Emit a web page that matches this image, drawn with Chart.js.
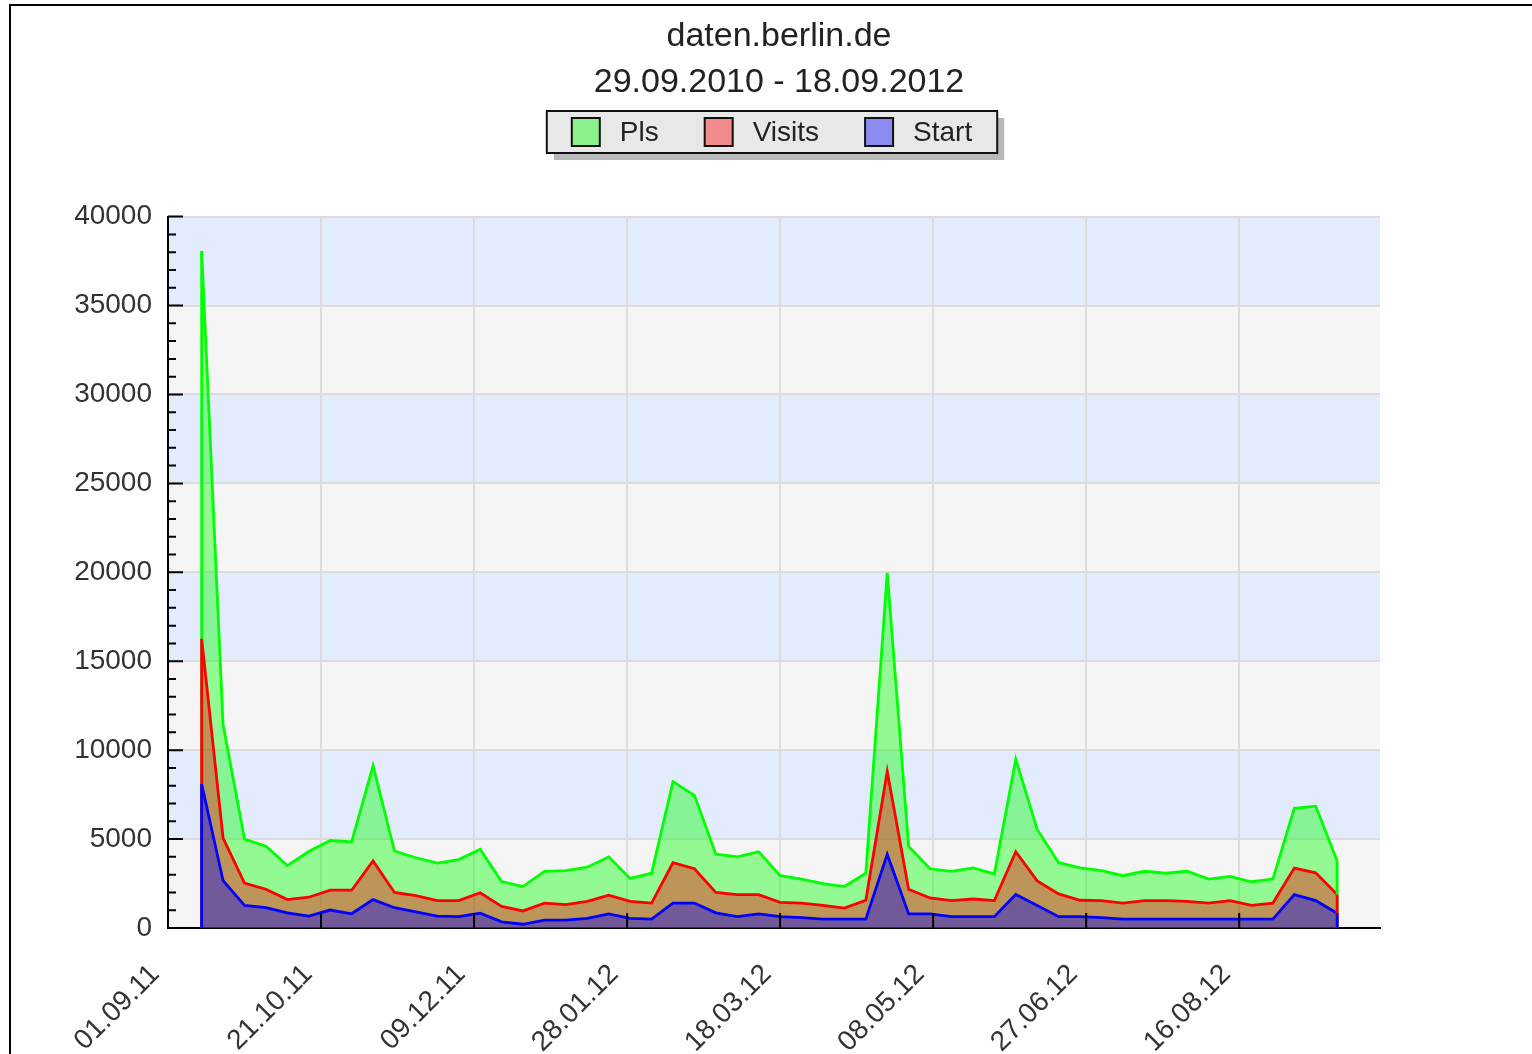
<!DOCTYPE html>
<html>
<head>
<meta charset="utf-8">
<script src="https://cdn.jsdelivr.net/npm/chart.js@4.4.1/dist/chart.umd.min.js"></script>
<style>
  html, body { margin: 0; padding: 0; background: #fff; }
</style>
</head>
<body>
<canvas id="myChart" width="1532" height="1054"></canvas>
<script>
// weekly values
const weeks = ['12.09.11', '19.09.11', '26.09.11', '03.10.11', '10.10.11', '17.10.11', '24.10.11', '31.10.11',
  '07.11.11', '14.11.11', '21.11.11', '28.11.11', '05.12.11', '12.12.11', '19.12.11', '26.12.11',
  '02.01.12', '09.01.12', '16.01.12', '23.01.12', '30.01.12', '06.02.12', '13.02.12', '20.02.12', '27.02.12',
  '05.03.12', '12.03.12', '19.03.12', '26.03.12', '02.04.12', '09.04.12', '16.04.12', '23.04.12', '30.04.12',
  '07.05.12', '14.05.12', '21.05.12', '28.05.12', '04.06.12', '11.06.12', '18.06.12', '25.06.12',
  '02.07.12', '09.07.12', '16.07.12', '23.07.12', '30.07.12', '06.08.12', '13.08.12', '20.08.12', '27.08.12',
  '03.09.12', '10.09.12', '17.09.12'];
const pls = [38060, 11430, 5000, 4600, 3510, 4300, 4920, 4840, 9120, 4330, 3950, 3650, 3850, 4420, 2615, 2330,
  3190, 3230, 3420, 4000, 2790, 3080, 8230, 7460, 4150, 4000, 4290, 2940, 2750, 2500, 2330, 3080, 19970, 4580,
  3330, 3190, 3380, 3040, 9480, 5540, 3670, 3380, 3230, 2940, 3190, 3080, 3190, 2750, 2900, 2600, 2750, 6730, 6850, 3770];
const visits = [16270, 5050, 2525, 2180, 1595, 1730, 2125, 2125, 3775, 2000, 1820, 1540, 1540, 1980, 1210, 960,
  1400, 1310, 1500, 1850, 1500, 1400, 3670, 3330, 2000, 1880, 1880, 1440, 1400, 1270, 1115, 1560, 8810, 2170,
  1690, 1540, 1630, 1540, 4290, 2650, 1920, 1560, 1540, 1400, 1540, 1540, 1500, 1400, 1540, 1270, 1400, 3370, 3100, 1880];
const starts = [8100, 2660, 1275, 1140, 850, 665, 1010, 800, 1595, 1140, 900, 670, 635, 830, 345, 210,
  440, 440, 540, 790, 540, 500, 1400, 1400, 850, 635, 790, 635, 580, 500, 500, 500, 4150, 790,
  790, 635, 635, 635, 1880, 1270, 635, 635, 580, 500, 500, 500, 500, 500, 500, 500, 500, 1880, 1540, 830];
const seriesNames = ['Pls', 'Visits', 'Start'];
// x ticks every 50 days from the axis start, labelled as in the original
const tickLabels = ['01.09.11', '21.10.11', '09.12.11', '28.01.12', '18.03.12', '08.05.12', '27.06.12', '16.08.12'];
const axisStart = '01.09.11';
const axisEnd = '01.10.12';
const title = 'daten.berlin.de';
const subtitle = '29.09.2010 - 18.09.2012';

const FONT = '"Liberation Sans", Arial, sans-serif';
const lineColors = ['#00ff00', '#ff0000', '#0000ff'];
const fillColors = ['rgba(0,255,0,0.4)', 'rgba(255,0,0,0.4)', 'rgba(0,0,255,0.4)'];

const base = Date.UTC(2011, 8, 1);
function toDay(s) {
  const [d, m, y] = s.split('.').map(Number);
  return Math.round((Date.UTC(2000 + y, m - 1, d) - base) / 86400000);
}

const series = [pls, visits, starts];
const datasets = series.map((vals, i) => ({
  label: seriesNames[i],
  data: vals.map((v, k) => ({x: toDay(weeks[k]), y: v})),
  borderColor: lineColors[i],
  backgroundColor: fillColors[i],
  borderWidth: 2.8,
  fill: 'origin',
  pointRadius: 0,
  tension: 0,
  order: 3 - i
}));

// background frame + banded plot area
const backdrop = {
  id: 'backdrop',
  beforeDraw(chart) {
    const {ctx, chartArea: a} = chart;
    const ys = chart.scales.y;
    ctx.save();
    ctx.fillStyle = '#fff';
    ctx.fillRect(0, 0, chart.width, chart.height);
    for (let v = 0; v < 40000; v += 5000) {
      const top = ys.getPixelForValue(v + 5000), bot = ys.getPixelForValue(v);
      ctx.fillStyle = (v / 5000) % 2 ? '#e2ecfc' : '#f5f5f5';
      ctx.fillRect(a.left, top, a.right - a.left, bot - top);
    }
    ctx.strokeStyle = '#000';
    ctx.lineWidth = 2;
    ctx.beginPath();
    ctx.moveTo(10, chart.height);
    ctx.lineTo(10, 5);
    ctx.lineTo(chart.width, 5);
    ctx.stroke();
    ctx.restore();
  }
};

// closing edges of the areas + inward tick marks
const edges = {
  id: 'edges',
  afterDatasetsDraw(chart) {
    const {ctx, chartArea: a} = chart;
    const ys = chart.scales.y, xs = chart.scales.x;
    const y0 = ys.getPixelForValue(0);
    ctx.save();
    chart.data.datasets.forEach((ds, i) => {
      const pts = chart.getDatasetMeta(i).data;
      ctx.strokeStyle = ds.borderColor;
      ctx.lineWidth = ds.borderWidth;
      [pts[0], pts[pts.length - 1]].forEach(p => {
        ctx.beginPath();
        ctx.moveTo(p.x, p.y);
        ctx.lineTo(p.x, y0);
        ctx.stroke();
      });
    });
    ctx.strokeStyle = '#000';
    ctx.lineWidth = 2;
    ctx.beginPath();
    xs.ticks.forEach(t => {
      const px = xs.getPixelForValue(t.value);
      ctx.moveTo(px, a.bottom);
      ctx.lineTo(px, a.bottom - 15);
    });
    for (let v = 0; v <= 40000; v += 1000) {
      const py = ys.getPixelForValue(v);
      ctx.moveTo(a.left, py);
      ctx.lineTo(a.left + (v % 5000 === 0 ? 15 : 8), py);
    }
    ctx.stroke();
    ctx.restore();
  }
};

// boxed legend with drop shadow
const boxLegend = {
  id: 'boxLegend',
  afterDraw(chart) {
    const ctx = chart.ctx;
    const dss = chart.data.datasets;
    const sw = 28, gapText = 20, gapItem = 46, padX = 25;
    ctx.save();
    ctx.font = '28px ' + FONT;
    const widths = dss.map(ds => ctx.measureText(ds.label).width);
    const inner = widths.reduce((s, w) => s + sw + gapText + w, 0) + gapItem * (dss.length - 1);
    const w = inner + 2 * padX, h = 42;
    const x0 = 772 - w / 2, y0 = 111;
    ctx.fillStyle = '#b9b9b9';
    ctx.fillRect(x0 + 7, y0 + 7, w, h);
    ctx.fillStyle = '#e8e8e8';
    ctx.fillRect(x0, y0, w, h);
    ctx.strokeStyle = '#111';
    ctx.lineWidth = 2;
    ctx.strokeRect(x0, y0, w, h);
    let x = x0 + padX;
    ctx.textBaseline = 'middle';
    dss.forEach((ds, i) => {
      ctx.fillStyle = ds.backgroundColor;
      ctx.fillRect(x, y0 + 7, sw, sw);
      ctx.strokeStyle = '#111';
      ctx.strokeRect(x, y0 + 7, sw, sw);
      ctx.fillStyle = '#222';
      ctx.fillText(ds.label, x + sw + gapText, y0 + h / 2 + 1);
      x += sw + gapText + widths[i] + gapItem;
    });
    ctx.restore();
  }
};

const config = {
  type: 'line',
  data: {datasets: datasets},
  options: {
    responsive: false,
    animation: false,
    devicePixelRatio: 1,
    layout: {padding: {left: 26, top: 8, right: 0, bottom: 0}},
    scales: {
      x: {
        type: 'linear',
        min: toDay(axisStart),
        max: toDay(axisEnd),
        afterFit: s => { s.height = 126; },
        ticks: {
          stepSize: 50,
          includeBounds: false,
          autoSkip: false,
          minRotation: 45,
          maxRotation: 45,
          padding: 30,
          labelOffset: -13,
          color: '#333',
          font: {family: FONT, size: 28},
          callback: (v, i) => tickLabels[i]
        },
        grid: {color: '#dcdcdc', lineWidth: 2, drawTicks: false},
        border: {color: '#000', width: 2}
      },
      y: {
        min: 0,
        max: 40000,
        afterFit: s => { s.width = 142; },
        ticks: {
          stepSize: 5000,
          padding: 16,
          color: '#333',
          font: {family: FONT, size: 28},
          callback: v => String(v)
        },
        grid: {color: '#dcdcdc', lineWidth: 2, drawTicks: false},
        border: {color: '#000', width: 2}
      },
      // empty right-hand strip, keeps the plot narrower than the titles
      yRight: {
        axis: 'y',
        position: 'right',
        min: 0,
        max: 40000,
        afterFit: s => { s.width = 152; },
        ticks: {display: false},
        grid: {display: false, drawTicks: false},
        border: {display: false}
      }
    },
    plugins: {
      legend: {display: false},
      tooltip: {enabled: false},
      title: {
        display: true,
        text: title,
        color: '#222',
        font: {family: FONT, size: 34, weight: 'normal'},
        padding: {top: 8, bottom: 0}
      },
      subtitle: {
        display: true,
        text: subtitle,
        color: '#222',
        font: {family: FONT, size: 34, weight: 'normal'},
        padding: {top: 5, bottom: 114}
      }
    }
  },
  plugins: [backdrop, edges, boxLegend]
};

let myChart = new Chart(document.getElementById('myChart'), config);
</script>
</body>
</html>
